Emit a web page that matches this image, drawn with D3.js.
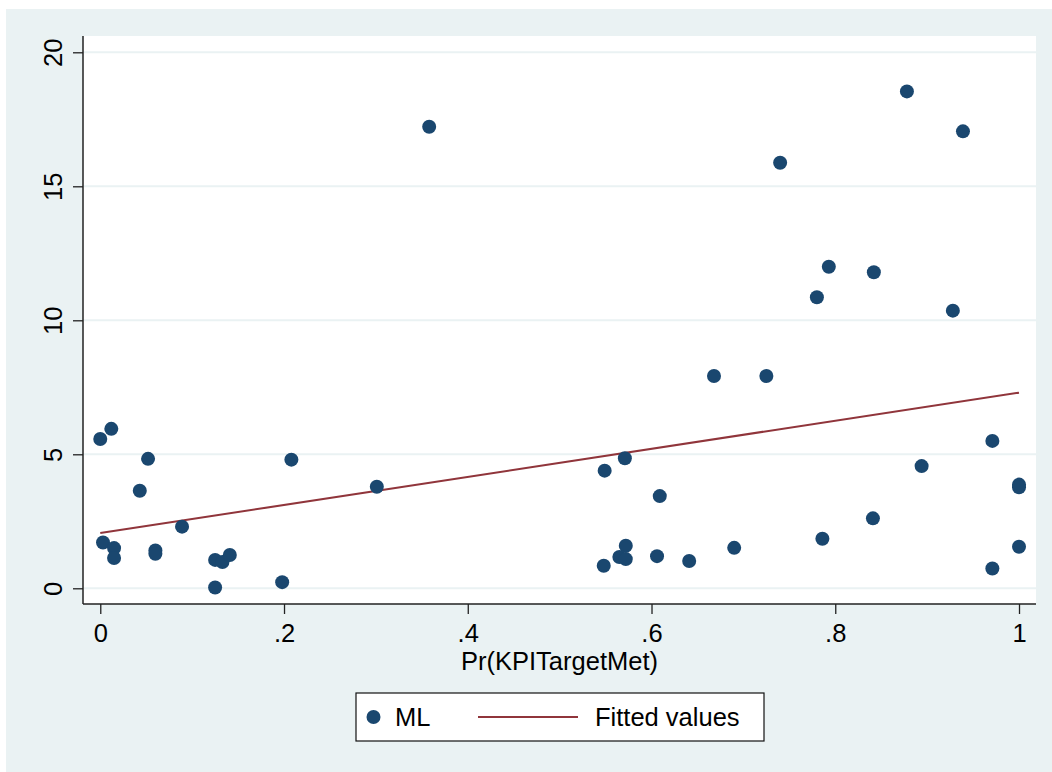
<!DOCTYPE html>
<html><head><meta charset="utf-8">
<script src="https://cdn.jsdelivr.net/npm/d3@7"></script>
<style>
html,body{margin:0;padding:0;background:#fff;}
svg{display:block;}
text{font-family:"Liberation Sans", Arial, Helvetica, sans-serif;fill:#000;}
</style></head>
<body>
<script>
// Data
const mlX = [0.000,0.012,0.052,0.043,0.208,0.301,0.089,0.003,0.015,0.015,0.060,0.060,0.125,0.133,0.141,0.125,0.198,
             0.971,0.571,0.549,0.894,0.609,1.000,1.000,0.841,0.786,0.690,1.000,0.572,0.565,0.572,0.606,0.641,0.548,0.971,
             0.358,0.878,0.939,0.740,0.793,0.842,0.780,0.928,0.668,0.725];
const mlY = [5.57,5.95,4.83,3.64,4.80,3.79,2.30,1.71,1.50,1.13,1.41,1.29,1.06,0.98,1.24,0.03,0.23,
             5.50,4.85,4.39,4.56,3.44,3.87,3.77,2.61,1.85,1.51,1.55,1.59,1.17,1.09,1.20,1.02,0.84,0.74,
             17.22,18.54,17.05,15.88,12.00,11.79,10.86,10.36,7.92,7.92];
const fitX = [0, 1];
const fitY = [2.06, 7.30];
const xTicks = [0, 0.2, 0.4, 0.6, 0.8, 1];
const xTickLabels = ["0", ".2", ".4", ".6", ".8", "1"];
const yTicks = [0, 5, 10, 15, 20];
const yTickLabels = ["0", "5", "10", "15", "20"];
const xTitle = "Pr(KPITargetMet)";
const legendLabels = ["ML", "Fitted values"];

const W = 1052, H = 772;
const plot = {left: 83, right: 1036, top: 36, bottom: 604};
const bg = "#EAF2F3", navy = "#1A476F", maroon = "#90353B";
const fs = 25.5;

const svg = d3.select("body").append("svg").attr("width", W).attr("height", H);
svg.append("rect").attr("x",0).attr("y",0).attr("width",W).attr("height",H).attr("fill","#fff");
svg.append("rect").attr("x",6).attr("y",9).attr("width",W-6).attr("height",H-9).attr("fill",bg);
svg.append("rect").attr("x",plot.left).attr("y",plot.top)
   .attr("width",plot.right-plot.left).attr("height",plot.bottom-plot.top).attr("fill","#fff");

const x = d3.scaleLinear().domain([-0.0188, 1.0185]).range([plot.left, plot.right]);
const y = d3.scaleLinear().domain([-0.586, 20.608]).range([plot.bottom, plot.top]);

// gridlines
svg.append("g").selectAll("line").data(yTicks).join("line")
  .attr("x1", plot.left).attr("x2", plot.right)
  .attr("y1", d => y(d)).attr("y2", d => y(d))
  .attr("stroke", bg).attr("stroke-width", 2);

// axes
const yAxis = d3.axisLeft(y).tickValues(yTicks).tickFormat((d,i)=>yTickLabels[i]).tickSize(10).tickSizeOuter(0);
const gy = svg.append("g").attr("transform", `translate(${plot.left},0)`).call(yAxis);
gy.select(".domain").attr("d", `M0,${plot.top}V${plot.bottom}`).attr("stroke","#222").attr("stroke-width",1.5);
gy.selectAll(".tick line").attr("stroke","#222").attr("stroke-width",1.3);
gy.selectAll(".tick text").attr("font-size", fs).attr("font-family",'"Liberation Sans", Arial, sans-serif')
  .attr("fill","#000").attr("text-anchor","middle").attr("dy",null)
  .attr("x", 0).attr("y", 0)
  .attr("transform", "translate(-21,0) rotate(-90)");

const xAxis = d3.axisBottom(x).tickValues(xTicks).tickFormat((d,i)=>xTickLabels[i]).tickSize(10).tickSizeOuter(0);
const gx = svg.append("g").attr("transform", `translate(0,${plot.bottom})`).call(xAxis);
gx.select(".domain").attr("d", `M${plot.left},0H${plot.right}`).attr("stroke","#222").attr("stroke-width",1.5);
gx.selectAll(".tick line").attr("stroke","#222").attr("stroke-width",1.3);
gx.selectAll(".tick text").attr("font-size", fs).attr("font-family",'"Liberation Sans", Arial, sans-serif')
  .attr("fill","#000").attr("dy",null).attr("y", 38);

svg.append("text").attr("x", (plot.left+plot.right)/2).attr("y", 670)
  .attr("text-anchor","middle").attr("font-size", fs).text(xTitle);

// fitted line
const pts = fitX.map((d,i)=>[d, fitY[i]]);
svg.append("path").attr("d", d3.line().x(d=>x(d[0])).y(d=>y(d[1]))(pts))
  .attr("fill","none").attr("stroke", maroon).attr("stroke-width", 2);

// points
svg.append("g").selectAll("circle").data(mlX.map((d,i)=>[d, mlY[i]])).join("circle")
  .attr("cx", d=>x(d[0])).attr("cy", d=>y(d[1])).attr("r", 7).attr("fill", navy);

// legend
const lg = svg.append("g");
lg.append("rect").attr("x",356).attr("y",693).attr("width",408).attr("height",48)
  .attr("fill","#fff").attr("stroke","#111").attr("stroke-width",1.2);
lg.append("circle").attr("cx",373.5).attr("cy",717).attr("r",7).attr("fill",navy);
lg.append("text").attr("x",395).attr("y",726).attr("font-size",fs).text(legendLabels[0]);
lg.append("line").attr("x1",478).attr("x2",578).attr("y1",717).attr("y2",717)
  .attr("stroke",maroon).attr("stroke-width",2);
lg.append("text").attr("x",595).attr("y",726).attr("font-size",fs).text(legendLabels[1]);
</script>
</body></html>
